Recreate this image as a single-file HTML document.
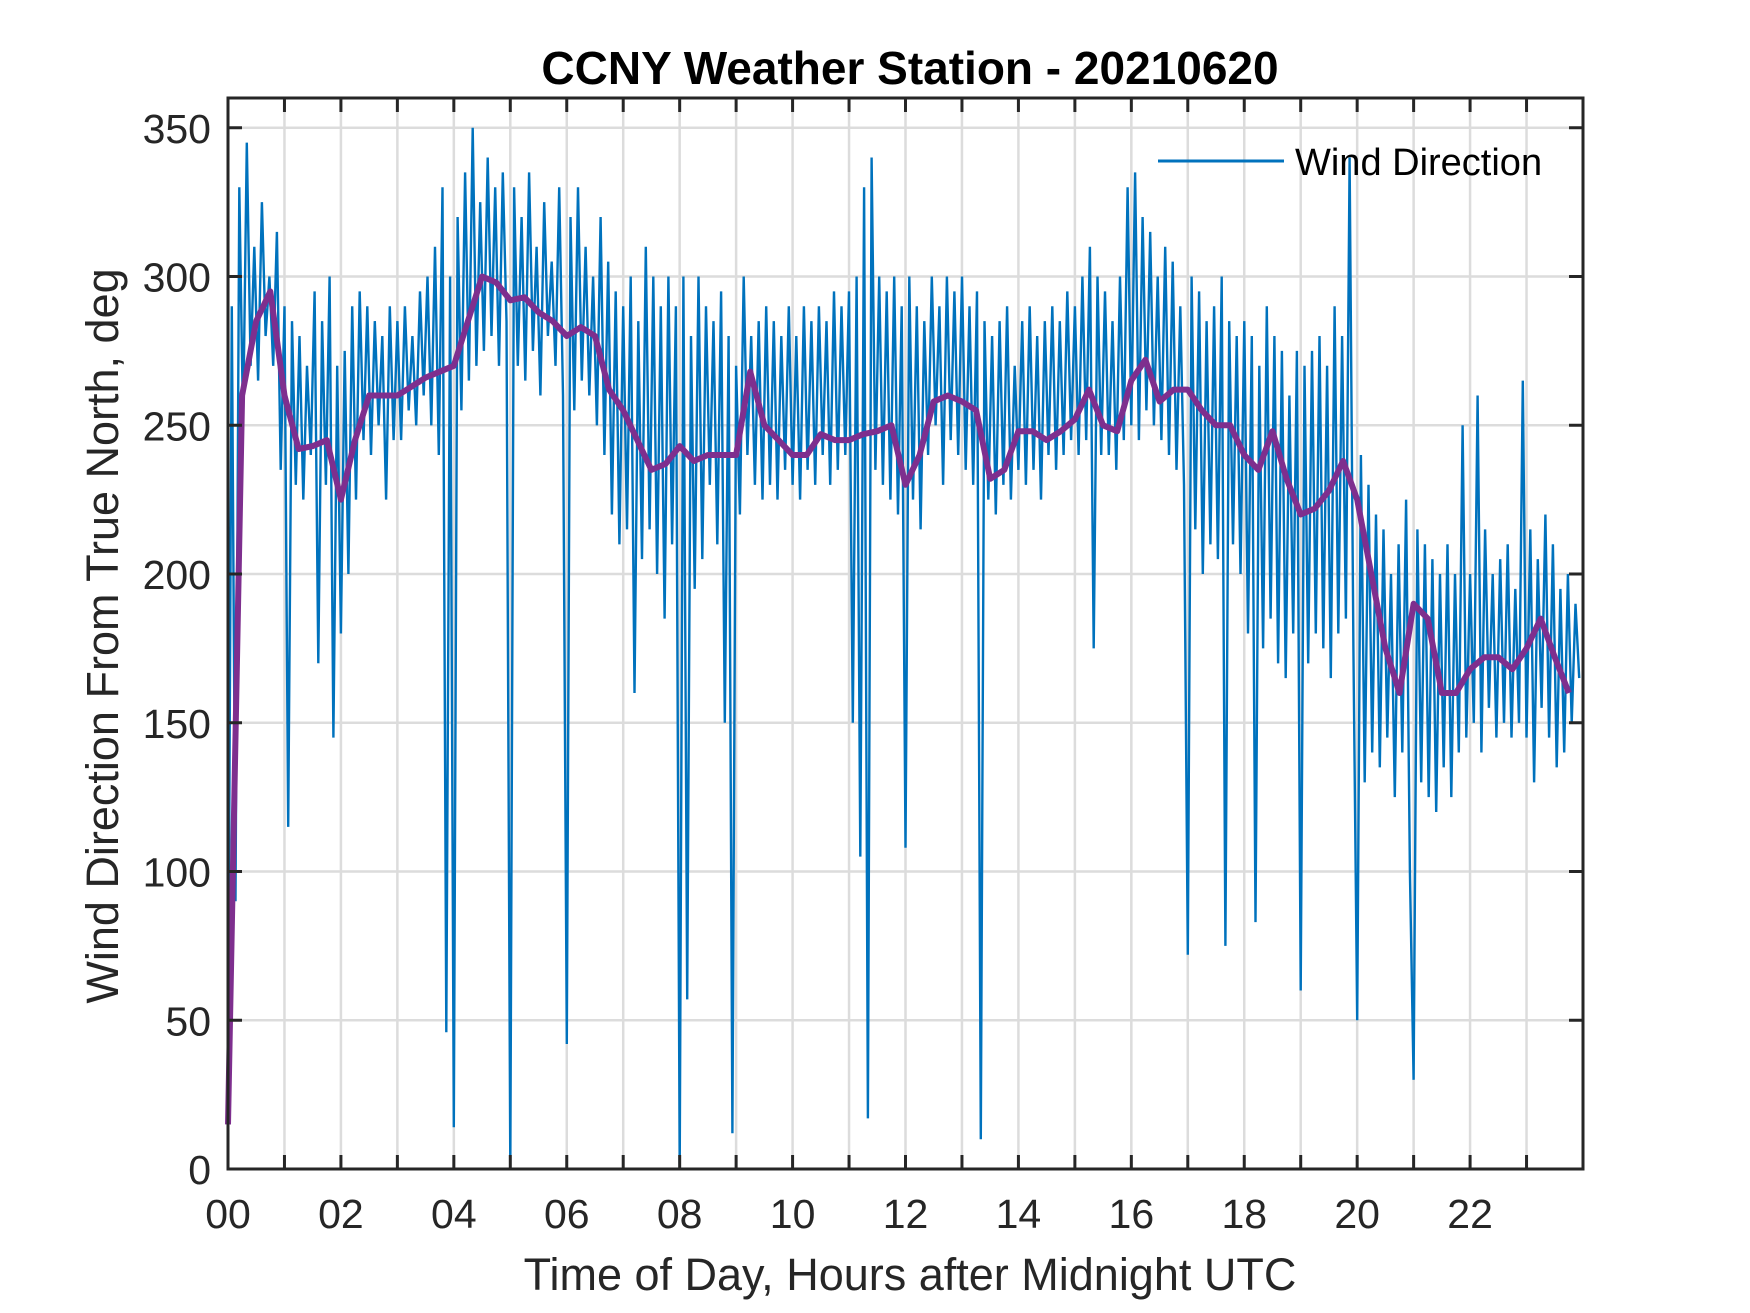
<!DOCTYPE html>
<html><head><meta charset="utf-8"><style>
html,body{margin:0;padding:0;background:#fff;}
svg{display:block;font-family:"Liberation Sans",Arial,sans-serif;}
</style></head><body>
<svg id="chart" width="1750" height="1313" viewBox="0 0 1750 1313">
<rect x="0" y="0" width="1750" height="1313" fill="#fff"/>
<g id="grid"></g>
<g id="series"></g>
<g id="axes"></g>
<text x="910" y="84" text-anchor="middle" font-size="46" font-weight="bold" fill="#000">CCNY Weather Station - 20210620</text>
<text x="910" y="1290" text-anchor="middle" font-size="45" fill="#262626">Time of Day, Hours after Midnight UTC</text>
<text x="0" y="0" transform="translate(118,636) rotate(-90)" text-anchor="middle" font-size="45" fill="#262626">Wind Direction From True North, deg</text>
<g>
<line x1="1158" y1="161" x2="1284" y2="161" stroke="#0072BD" stroke-width="3"/>
<text x="1295" y="175" font-size="38" fill="#000">Wind Direction</text>
</g>
</svg>
<script>
const xTickLabels = ["00","02","04","06","08","10","12","14","16","18","20","22"];
const yTickValues = [0,50,100,150,200,250,300,350];
// Raw wind direction, one sample every 4 minutes (15 per hour)
const windDirection = [
30,290,90,330,250,345,270,310,265,325,280,300,270,315,235,
290,115,285,230,280,225,270,240,295,170,285,230,300,145,270,
180,275,200,290,225,295,245,290,240,285,250,280,225,290,245,
285,245,290,255,280,250,295,260,300,250,310,240,330,46,300,
14,320,255,335,265,350,270,325,275,340,280,330,270,335,285,
0,330,270,320,265,335,275,310,260,325,280,305,270,330,260,
42,320,255,330,265,310,260,300,250,320,240,305,220,295,210,
290,215,300,160,285,205,310,215,300,200,290,185,300,210,290,
0,300,57,280,195,300,205,290,230,285,210,295,150,280,12,
270,220,300,240,280,230,285,225,290,230,285,225,280,235,290,
230,280,225,290,235,285,230,290,240,285,230,295,235,290,240,
295,150,300,105,330,17,340,235,300,230,295,225,300,220,290,
108,300,225,290,215,285,240,300,250,290,230,300,245,295,240,
300,235,290,230,295,10,285,225,280,220,285,230,290,225,270,
235,285,230,290,235,280,225,285,240,290,235,285,240,295,245,
290,240,300,245,310,175,300,240,295,240,285,235,300,245,330,
250,335,245,320,255,315,250,300,245,310,240,305,235,290,230,
72,300,215,295,200,285,210,290,205,300,75,285,210,280,200,
285,180,280,83,270,175,290,185,280,170,275,165,260,180,275,
60,270,170,275,180,280,175,270,165,290,180,280,185,340,175,
50,240,130,230,140,220,135,215,145,200,125,210,140,225,100,
30,215,130,210,125,205,120,200,135,210,125,200,140,250,145,
200,150,260,140,215,155,200,145,205,150,210,145,195,150,265,
145,215,130,205,155,220,145,210,135,195,140,200,150,190,165
];
// Smoothed wind direction, one sample every 15 minutes
const smoothedDirection = [
15,260,285,295, 260,242,243,245, 225,245,260,260, 260,263,266,268,
270,285,300,298, 292,293,288,285, 280,283,280,262, 255,245,235,237,
243,238,240,240, 240,268,250,245, 240,240,247,245, 245,247,248,250,
230,240,258,260, 258,255,232,235, 248,248,245,248, 252,262,250,248,
265,272,258,262, 262,255,250,250, 240,235,248,232, 220,222,228,238,
225,200,175,160, 190,185,160,160, 168,172,172,168, 175,185,172,160
];
const rawStepHours = 1/15, smoothStepHours = 0.25;

const L=228,R=1583,T=98,B=1169,XMAX=24,YMAX=360;
const sx=h=>L+(h/XMAX)*(R-L);
const sy=v=>B-(v/YMAX)*(B-T);
const NS="http://www.w3.org/2000/svg";
const grid=document.getElementById('grid'),axes=document.getElementById('axes'),series=document.getElementById('series');
function mk(tag,attrs,parent){const e=document.createElementNS(NS,tag);for(const k in attrs)e.setAttribute(k,attrs[k]);parent.appendChild(e);return e;}

for(let h=1;h<XMAX;h++){
  const g=mk('line',{x1:sx(h),x2:sx(h),y1:T,y2:B,stroke:'#dcdcdc','stroke-width':2.5},grid);
  
  
}
yTickValues.forEach(v=>{
  if(v===0)return;
  const g=mk('line',{x1:L,x2:R,y1:sy(v),y2:sy(v),stroke:'#dcdcdc','stroke-width':2.5},grid);
  
  
});

let d='';
windDirection.forEach((v,i)=>{d+=(i?'L':'M')+sx(i*rawStepHours).toFixed(1)+','+sy(v).toFixed(1);});
const raw=mk('path',{d:d,fill:'none',stroke:'#0072BD','stroke-width':2.4,'stroke-linejoin':'miter'},series);



let d2='';
smoothedDirection.forEach((v,i)=>{d2+=(i?'L':'M')+sx(i*smoothStepHours).toFixed(1)+','+sy(v).toFixed(1);});
const sm=mk('path',{d:d2,fill:'none',stroke:'#7E2F8E','stroke-width':6,'stroke-linejoin':'round'},series);



for(let h=1;h<XMAX;h++){
  const t1=mk('line',{x1:sx(h),x2:sx(h),y1:B,y2:B-14,stroke:'#262626','stroke-width':3},axes);
  
  
  const t2=mk('line',{x1:sx(h),x2:sx(h),y1:T,y2:T+14,stroke:'#262626','stroke-width':3},axes);
  
  
}
xTickLabels.forEach((lab,i)=>{
  const t=mk('text',{x:sx(i*2),y:1228,'text-anchor':'middle','font-size':41,fill:'#262626'},axes);
  t.textContent=lab;
  
  
});
yTickValues.forEach(v=>{
  const a=mk('line',{x1:L,x2:L+14,y1:sy(v),y2:sy(v),stroke:'#262626','stroke-width':3},axes);
  
  
  const b=mk('line',{x1:R,x2:R-14,y1:sy(v),y2:sy(v),stroke:'#262626','stroke-width':3},axes);
  
  
  const t=mk('text',{x:211,y:sy(v)+15,'text-anchor':'end','font-size':41,fill:'#262626'},axes);
  t.textContent=v;
  
  
});
const box=mk('rect',{x:L,y:T,width:R-L,height:B-T,fill:'none',stroke:'#262626','stroke-width':3},axes);


</script>
</body></html>
